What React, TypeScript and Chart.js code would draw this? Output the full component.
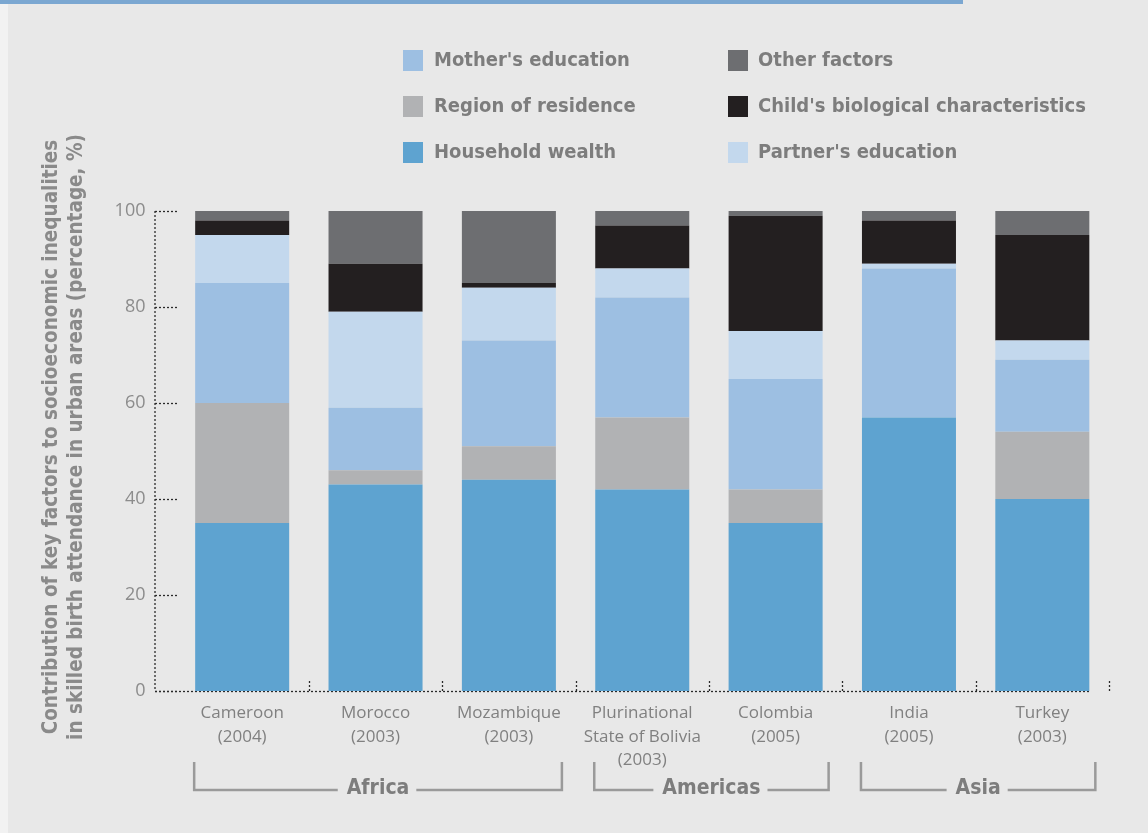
import React, { useEffect, useRef } from 'react';
import { Chart, registerables } from 'chart.js';

Chart.register(...registerables);

const categories: string[][] = [
  ['Cameroon', '(2004)'],
  ['Morocco', '(2003)'],
  ['Mozambique', '(2003)'],
  ['Plurinational', 'State of Bolivia', '(2003)'],
  ['Colombia', '(2005)'],
  ['India', '(2005)'],
  ['Turkey', '(2003)'],
];

const seriesNames = [
  'Household wealth',
  'Region of residence',
  "Mother's education",
  "Partner's education",
  "Child's biological characteristics",
  'Other factors',
];

const householdWealth = [35, 43, 44, 42, 35, 57, 40];
const regionOfResidence = [25, 3, 7, 15, 7, 0, 14];
const mothersEducation = [25, 13, 22, 25, 23, 31, 15];
const partnersEducation = [10, 20, 11, 6, 10, 1, 4];
const childBiological = [3, 10, 1, 9, 24, 9, 22];
const otherFactors = [2, 11, 15, 3, 1, 2, 5];

const seriesColors = ['#5ea3d0', '#b1b2b4', '#9dbfe2', '#c3d8ed', '#231f20', '#6d6e71'];

const yTicks = [0, 20, 40, 60, 80, 100];

const groupNames = ['Africa', 'Americas', 'Asia'];
const groupFirst = [0, 3, 5];
const groupLast = [2, 4, 6];

// legend columns (indices into seriesNames)
const legendColumns = [
  [2, 1, 0],
  [5, 4, 3],
];

const yTitleLines = [
  'Contribution of key factors to socioeconomic inequalities',
  'in skilled birth attendance in urban areas (percentage, %)',
];

const NARROW = "'Liberation Sans Narrow', 'DejaVu Sans Condensed', 'Liberation Sans', sans-serif";
const REGULAR = "'Open Sans', 'Liberation Sans', sans-serif";

const decorPlugin = {
  id: 'decor',
  beforeDraw(chart: any) {
    const { ctx, width, height } = chart;
    ctx.save();
    ctx.fillStyle = '#e8e8e8';
    ctx.fillRect(0, 0, width, height);
    ctx.fillStyle = '#f2f2f2';
    ctx.fillRect(0, 0, 8, height);
    ctx.fillStyle = '#7ba7d1';
    ctx.fillRect(0, 0, 963, 4);
    ctx.restore();
  },
  beforeDatasetsDraw(chart: any) {
    const { ctx, chartArea, scales } = chart;
    const xs = scales.x;
    const ys = scales.y;
    const axisX = chartArea.left - 20.5;
    const y0 = ys.getPixelForValue(0);
    const y100 = ys.getPixelForValue(100);
    const meta = chart.getDatasetMeta(0);
    const last: any = meta.data[meta.data.length - 1];
    const lastRight = last.x + last.width / 2;
    ctx.save();
    ctx.strokeStyle = '#2a2a2a';
    ctx.lineWidth = 1.3;
    ctx.setLineDash([2, 2]);
    // y axis line
    ctx.beginPath();
    ctx.moveTo(axisX, y100);
    ctx.lineTo(axisX, y0);
    ctx.stroke();
    // y ticks
    yTicks.forEach((v) => {
      const py = Math.round(ys.getPixelForValue(v)) + 0.5;
      ctx.beginPath();
      ctx.moveTo(axisX, py);
      ctx.lineTo(axisX + 23, py);
      ctx.stroke();
    });
    // baseline
    ctx.beginPath();
    ctx.moveTo(axisX, Math.round(y0) + 0.5);
    ctx.lineTo(lastRight, Math.round(y0) + 0.5);
    ctx.stroke();
    // category boundary ticks
    const half = (xs.getPixelForValue(1) - xs.getPixelForValue(0)) / 2;
    for (let i = 0; i < categories.length; i++) {
      const bx = Math.round(xs.getPixelForValue(i) + half) + 0.5;
      ctx.beginPath();
      ctx.moveTo(bx, y0);
      ctx.lineTo(bx, y0 - 12);
      ctx.stroke();
    }
    ctx.restore();
  },
  afterDraw(chart: any) {
    const { ctx } = chart;
    ctx.save();
    // legend
    const colX = [403, 728];
    const textX = [434, 758];
    const rowY = [60, 106, 152];
    ctx.font = `bold 20px ${NARROW}`;
    ctx.textBaseline = 'middle';
    ctx.textAlign = 'left';
    legendColumns.forEach((col, ci) => {
      col.forEach((si, ri) => {
        ctx.fillStyle = seriesColors[si];
        ctx.fillRect(colX[ci], rowY[ri] - 10, 20, 21);
        ctx.fillStyle = '#7d7d7d';
        ctx.fillText(seriesNames[si], textX[ci], rowY[ri] + 1);
      });
    });

    // y title
    ctx.save();
    ctx.translate(52, 437);
    ctx.rotate(-Math.PI / 2);
    ctx.fillStyle = '#8a8a8a';
    ctx.font = `bold 20.5px ${NARROW}`;
    ctx.textAlign = 'center';
    ctx.textBaseline = 'middle';
    ctx.fillText(yTitleLines[0], 0, 0);
    ctx.fillText(yTitleLines[1], 0, 25);
    ctx.restore();

    // group brackets
    const meta = chart.getDatasetMeta(0);
    const top = 762;
    const bottom = 790;
    ctx.font = `bold 21px ${NARROW}`;
    ctx.textAlign = 'center';
    ctx.textBaseline = 'middle';
    groupNames.forEach((name, gi) => {
      const a: any = meta.data[groupFirst[gi]];
      const b: any = meta.data[groupLast[gi]];
      const left = a.x - a.width / 2 - 1;
      const right = b.x + b.width / 2 + 6;
      const mid = (left + right) / 2;
      const tw = ctx.measureText(name).width;
      ctx.strokeStyle = '#9a9a9a';
      ctx.lineWidth = 2.5;
      ctx.beginPath();
      ctx.moveTo(left, top);
      ctx.lineTo(left, bottom);
      ctx.lineTo(mid - tw / 2 - 9, bottom);
      ctx.moveTo(mid + tw / 2 + 7, bottom);
      ctx.lineTo(right, bottom);
      ctx.lineTo(right, top);
      ctx.stroke();
      ctx.fillStyle = '#7d7d7d';
      ctx.fillText(name, mid, bottom - 1);
    });
    ctx.restore();
  },
};

export default function App() {
  const canvasRef = useRef<HTMLCanvasElement | null>(null);

  useEffect(() => {
    if (!canvasRef.current) return;
    const values = [
      householdWealth,
      regionOfResidence,
      mothersEducation,
      partnersEducation,
      childBiological,
      otherFactors,
    ];
    const chart = new Chart(canvasRef.current, {
      type: 'bar',
      data: {
        labels: categories as any,
        datasets: values.map((v, i) => ({
          label: seriesNames[i],
          data: v,
          backgroundColor: seriesColors[i],
          borderWidth: 0,
          barPercentage: 0.705,
          categoryPercentage: 1,
        })),
      },
      options: {
        responsive: true,
        maintainAspectRatio: false,
        animation: false,
        layout: { padding: { top: 211, right: 39, left: 0, bottom: 0 } },
        plugins: {
          legend: { display: false },
          tooltip: { enabled: false },
        },
        scales: {
          x: {
            stacked: true,
            grid: { display: false, drawTicks: false },
            border: { display: false },
            ticks: {
              autoSkip: false,
              maxRotation: 0,
              padding: 10,
              color: '#808080',
              font: { family: REGULAR, size: 17, lineHeight: 1.4 },
            },
            afterFit: (s: any) => {
              s.height = 142;
            },
          },
          y: {
            stacked: true,
            min: 0,
            max: 100,
            grid: { display: false, drawTicks: false },
            border: { display: false },
            ticks: {
              stepSize: 20,
              padding: 30,
              color: '#8c8c8c',
              font: { family: REGULAR, size: 18 },
            },
            afterFit: (s: any) => {
              s.width = 175.5;
            },
          },
        },
      },
      plugins: [decorPlugin],
    });
    return () => chart.destroy();
  }, []);

  return (
    <div style={{ position: 'absolute', left: 0, top: 0, width: 1148, height: 833 }}>
      <canvas ref={canvasRef} />
    </div>
  );
}
